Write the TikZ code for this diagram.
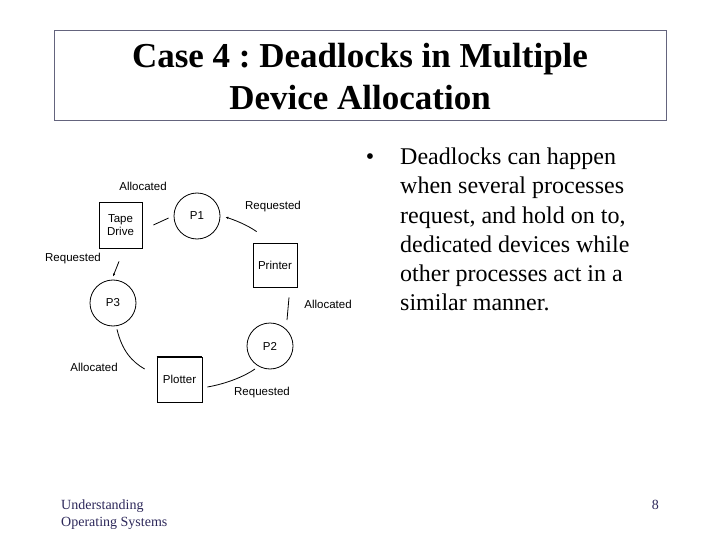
\documentclass[tikz,border=0pt]{standalone}
\usepackage{fontspec}
\setmainfont{Liberation Serif}
\newfontfamily\arialfont{Liberation Sans}
\usetikzlibrary{calc,arrows.meta}
\definecolor{framecol}{RGB}{100,100,125}
\definecolor{footcol}{RGB}{45,40,90}
\frenchspacing
\tikzset{
  dev/.style={draw, line width=0.8pt, minimum width=44pt, minimum height=45pt, inner sep=0pt, font=\arialfont\fontsize{11.5}{13}\selectfont, align=center},
  proc/.style={draw, circle, line width=0.8pt, minimum size=46pt, inner sep=0pt, font=\arialfont\fontsize{11.5}{13}\selectfont},
  lbl/.style={font=\arialfont\fontsize{11.5}{13}\selectfont, inner sep=0pt},
  conn/.style={line width=0.8pt},
  tip/.style={-{Latex[length=3pt,width=2.5pt]}},
  ttl/.style={font=\bfseries\fontsize{35}{40}\selectfont, anchor=base, inner sep=0pt},
  btx/.style={font=\fontsize{24}{29}\selectfont, anchor=base west, inner sep=0pt},
  ftx/.style={font=\fontsize{14}{17}\selectfont, color=footcol, inner sep=0pt}
}
\begin{document}
\begin{tikzpicture}[x=1pt,y=-1pt]
\useasboundingbox (0,0) rectangle (720,540);
\fill[white] (0,0) rectangle (720,540);
% title frame
\draw[framecol, line width=0.9pt] (54,30) rectangle (666,120);
\node[ttl] (title1) at (360,68) {Case 4 : Deadlocks in Multiple};
\node[ttl] (title2) at (360,110) {Device Allocation};
% bullet text
\node[font=\fontsize{24}{29}\selectfont, anchor=base, inner sep=0pt] (bul) at (370,165) {•};
\node[btx] (btext) at (400,165) {Deadlocks can happen};
\foreach \t [count=\i] in {when several processes, {request, and hold on to,}, dedicated devices while, other processes act in a, similar manner.}{
  \node[btx] (bl\i) at (400,{165+29*\i}) {\t};
}
% footer
\node[ftx, anchor=base west] (foot1) at (61,509) {Understanding};
\node[ftx, anchor=base west] (foot2) at (61,526) {Operating Systems};
\node[ftx, anchor=base east] (pagenum) at (659,509) {8};
% devices
\node[dev, minimum width=43pt, minimum height=46pt] (tape) at (120.5,225) {Tape\\Drive};
\node[dev, minimum width=44pt, minimum height=44pt] (printer) at (275,265) {Printer};
\node[dev, minimum width=45pt, minimum height=45pt] (plotter) at (179.5,379.5) {Plotter};
\draw[line width=2pt] ($(plotter.north west)+(0,0.6)$) -- ($(plotter.north east)+(0,0.6)$);
% processes
\node[proc] (p1) at (197,216) {P1};
\node[proc] (p2) at (270,346) {P2};
\node[proc] (p3) at (113,303) {P3};
% connectors
\draw[conn] ($(tape.east)+(11,0)$) -- ($(p1.west)+(-5,2)$);
\draw[conn,tip] ($(printer.north west)+(4,-11)$) .. controls ($(printer.north west)+(-6,-18)$) and ($(p1.east)+(14,4)$) .. ($(p1.east)+(5,1)$);
\draw[conn,tip] ($(tape.south)+(-1.5,13)$) -- ($(p3.north)+(0,-3)$);
\draw[conn] ($(printer.south)+(14,10)$) -- ($(p2.center)+(17,-26)$);
\draw[conn] ($(p3.south)+(4,3)$) .. controls ($(p3.south)+(9,24)$) and ($(plotter.west)+(-25,-18)$) .. ($(plotter.west)+(-12,-10.5)$);
\draw[conn] ($(plotter.east)+(5,7.5)$) .. controls ($(plotter.east)+(25,4)$) and ($(p2.center)+(-25,30)$) .. ($(p2.center)+(-15,23)$);
% labels
\node[lbl] (l1) at (143,186) {Allocated};
\node[lbl] (l2) at (273,207) {Requested};
\node[lbl] (l3) at (73,259) {Requested};
\node[lbl] (l4) at (328,304) {Allocated};
\node[lbl] (l5) at (94,367) {Allocated};
\node[lbl] (l6) at (262,393) {Requested};
\end{tikzpicture}
\end{document}
